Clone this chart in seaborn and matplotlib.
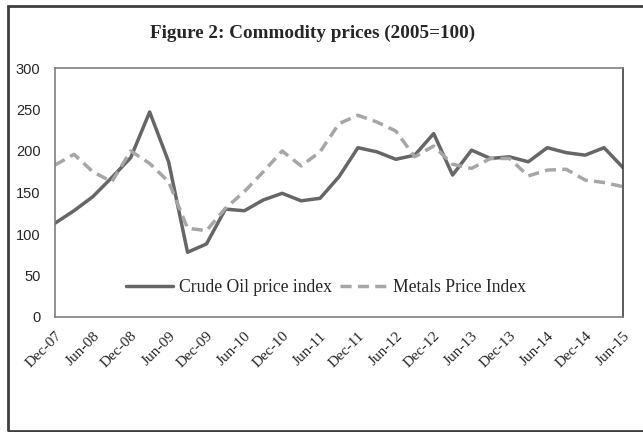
import matplotlib
matplotlib.use("Agg")
import matplotlib.pyplot as plt
import seaborn as sns
import pandas as pd
from matplotlib.patches import Rectangle
from matplotlib.lines import Line2D

tick_labels = ["Dec-07", "Jun-08", "Dec-08", "Jun-09", "Dec-09", "Jun-10", "Dec-10", "Jun-11",
               "Dec-11", "Jun-12", "Dec-12", "Jun-13", "Dec-13", "Jun-14", "Dec-14", "Jun-15"]

crude_oil = [113, 128, 145, 168, 192, 247, 187, 78, 88, 130, 128, 141, 149, 140, 143,
             169, 204, 199, 190, 195, 221, 171, 201, 191, 193, 187, 204, 198, 195, 204, 180]
metals = [183, 196, 175, 163, 200, 185, 163, 107, 104, 131, 151, 175, 200, 182, 199,
          233, 243, 235, 224, 193, 206, 184, 179, 191, 191, 170, 177, 178, 165, 162, 157]

quarters = list(range(len(crude_oil)))
df = pd.DataFrame({"q": quarters, "Crude Oil price index": crude_oil, "Metals Price Index": metals})

sns.set_style("white")
plt.rcParams["font.family"] = ["Liberation Serif", "DejaVu Serif"]

fig = plt.figure(figsize=(6.43, 4.32), dpi=100)
ax = fig.add_axes([55/643, 1 - 317/432, (623-55)/643, (317-68)/432])

oil_c = "#666666"
met_c = "#a6a6a6"
dash = (0, (3.2, 1.8))
sns.lineplot(data=df, x="q", y="Crude Oil price index", ax=ax, color=oil_c, linewidth=2.5)
sns.lineplot(data=df, x="q", y="Metals Price Index", ax=ax, color=met_c, linewidth=2.5,
             linestyle=dash)

ax.set_xlim(0, 30)
ax.set_ylim(0, 300)
ax.set_xticks(range(0, 31, 2))
ax.set_xticklabels(tick_labels, rotation=45, ha="right", rotation_mode="anchor",
                   fontsize=11, family=["Liberation Serif"])
ax.set_yticks(range(0, 301, 50))
ax.set_yticklabels([str(v) for v in range(0, 301, 50)], fontsize=10.5,
                   family=["Liberation Sans"])
ax.tick_params(axis="y", length=0, pad=10.5)
ax.tick_params(axis="x", length=0, pad=9)
ax.set_xlabel("")
ax.set_ylabel("")
for s in ax.spines.values():
    s.set_color("#7f7f7f")
    s.set_linewidth(1.2)
ax.spines["right"].set_color("#404040")

handles = [Line2D([], [], color=oil_c, lw=2.5),
           Line2D([], [], color=met_c, lw=2.5, linestyle=dash)]
fig.legend(handles, ["Crude Oil price index", "Metals Price Index"], ncol=2,
           loc="center", bbox_to_anchor=(326/643, 1 - 288/432), frameon=False,
           fontsize=12.7, handlelength=2.7, columnspacing=0.5, handletextpad=0.3)

fig.text(313/643, 1 - 33/432, "Figure 2: Commodity prices (2005=100)", ha="center",
         va="center", fontsize=13.8, fontweight="bold")

fig.patches.append(Rectangle((8/643, 1 - 431/432), 1.0, (431-6)/432, transform=fig.transFigure,
                             fill=False, edgecolor="#404040", linewidth=2.0))

fig.savefig("out.png", dpi=100)
